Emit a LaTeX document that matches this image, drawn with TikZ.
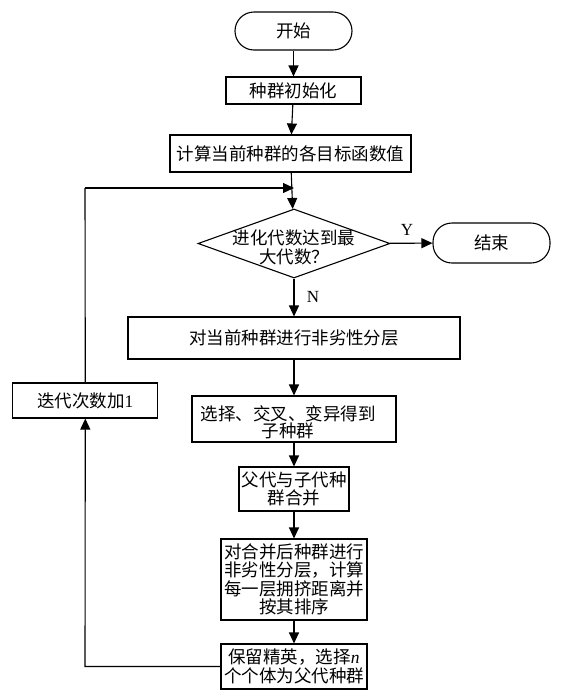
\documentclass[tikz,border=0pt]{standalone}
\usepackage{fontspec}
\setmainfont{Noto Sans CJK SC}
\newfontfamily\latfont{Liberation Serif}
\usetikzlibrary{shapes.geometric,arrows.meta}
\tikzset{
  base/.style={draw=black, line width=1.1pt, font=\fontsize{17.5}{18.5}\selectfont, inner sep=1pt, align=center},
  procbox/.style={base, rectangle},
  termbox/.style={base, rectangle, rounded corners=19pt, minimum width=117pt},
  decbox/.style={base, diamond, minimum width=192pt, minimum height=69pt, inner sep=0pt},
  flow/.style={line width=1.1pt, -{Triangle[length=11pt,width=10pt]}},
  plain/.style={line width=1.1pt},
  yn/.style={font=\latfont\fontsize{17}{18}\selectfont, inner sep=0pt}
}
\begin{document}
\begin{tikzpicture}[x=1pt,y=-1pt]
\useasboundingbox (0,0) rectangle (568,697);
\node[termbox, minimum height=38pt] (start) at (293.5,31) {开始};
\node[procbox, minimum width=135pt, minimum height=27pt] (init) at (293.5,90.5) {种群初始化};
\node[procbox, minimum width=241pt, minimum height=37pt] (calc) at (290.5,153.5) {计算当前种群的各目标函数值};
\node[decbox, label={[font=\fontsize{17.5}{19}\selectfont, align=center, yshift=-4pt]center:进化代数达到最\\大代数？}] (dec) at (294,243.5) {};
\node[termbox, minimum height=40pt] (end) at (491.5,243) {结束};
\node[procbox, minimum width=332pt, minimum height=42pt] (layer) at (294,338) {对当前种群进行非劣性分层};
\node[procbox, minimum width=145pt, minimum height=35pt] (iter) at (85.3,400.5) {迭代次数加{\latfont 1}};
\node[procbox, minimum width=204pt, minimum height=46pt, label={[font=\fontsize{17.5}{17}\selectfont, align=center, xshift=-6pt, yshift=-3pt]center:选择、交叉、变异得到\\子种群}] (sel) at (294,419) {};
\node[procbox, minimum width=110pt, minimum height=44pt, text width=108pt] (merge) at (294,489) {父代与子代种\\群合并};
\node[procbox, minimum width=146pt, minimum height=81pt, text width=144pt] (comb) at (294,579.5) {对合并后种群进行\\非劣性分层，计算\\每一层拥挤距离并\\按其排序};
\node[procbox, minimum width=146pt, minimum height=45pt, text width=144pt] (keep) at (294,666.5) {保留精英，选择{\latfont\itshape n}\\个个体为父代种群};
\coordinate (join) at (294,188);
\coordinate (loopbot) at (85,666.5);
\coordinate (looptop) at (85,188);
\node[yn] (ylab) at (407,230) {Y};
\node[yn] (nlab) at (313,297) {N};
\draw[flow] (start) -- (init);
\draw[flow] (init) -- (calc);
\draw[flow] (calc) -- (dec);
\draw[flow] (dec) -- (end);
\draw[flow] (dec) -- (layer);
\draw[flow] (layer) -- (sel);
\draw[flow] (sel) -- (merge);
\draw[flow] (merge) -- (comb);
\draw[flow] (comb) -- (keep);
\draw[flow] (keep.west) -- (loopbot) -- (iter.south);
\draw[plain] (iter.north) -- (looptop);
\draw[flow] (looptop) -- (join);
\end{tikzpicture}
\end{document}
